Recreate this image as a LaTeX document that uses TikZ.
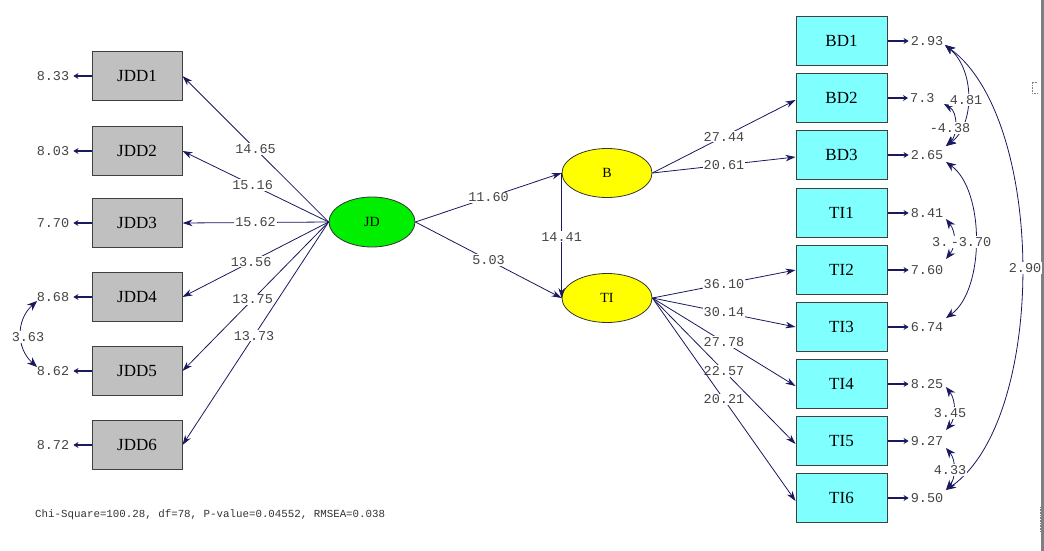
\documentclass[tikz,border=0pt]{standalone}
\usepackage{fontspec}
\setmainfont{Liberation Serif}
\newfontfamily\monof{Liberation Mono}
\usetikzlibrary{arrows.meta,shapes.geometric}
\definecolor{navy}{RGB}{25,25,95}
\definecolor{boxgray}{RGB}{192,192,192}
\definecolor{lcyan}{RGB}{128,255,255}
\definecolor{lgreen}{RGB}{0,238,0}
\definecolor{lyellow}{RGB}{255,255,0}
\definecolor{txtgray}{RGB}{70,70,70}
\begin{document}
\begin{tikzpicture}[x=1pt,y=-1pt,
  gbox/.style={draw=black!75, line width=1pt, fill=boxgray, minimum width=90pt, minimum height=49pt, inner sep=0pt, font=\fontsize{17}{17}\selectfont},
  cbox/.style={draw=black!75, line width=1pt, fill=lcyan, minimum width=91pt, minimum height=49pt, inner sep=0pt, font=\fontsize{17}{17}\selectfont},
  lat/.style={ellipse, draw=black!80, line width=0.8pt, minimum width=88pt, minimum height=50pt, inner sep=0pt, font=\fontsize{14}{14}\selectfont},
  num/.style={font=\monof\fontsize{13.5}{13.5}\selectfont, text=txtgray, inner sep=1pt},
  numw/.style={num, fill=white},
  load/.style={draw=navy, line width=0.8pt, -{Stealth[length=10pt,width=6.5pt]}},
  err/.style={draw=navy, line width=2.4pt, -{Stealth[length=5pt,width=6pt]}},
  cov/.style={draw=navy, line width=0.8pt, {Stealth[length=10pt,width=8pt]}-{Stealth[length=10pt,width=8pt]}},
]
\useasboundingbox (0,0) rectangle (1044,551);
\fill[white] (0,0) rectangle (1044,551);

% window edge
\draw[gray, line width=2.5pt] (1042.5,0) -- (1042.5,551);
\draw[gray, densely dotted, line width=0.6pt] (1037,82) -- (1032,82) -- (1032,93) -- (1037,93);
\draw[gray, densely dotted, line width=0.6pt] (1040,507) -- (1040,532);

% left boxes
\node[gbox] (JDD1) at (137,76) {JDD1};
\node[gbox] (JDD2) at (137,151) {JDD2};
\node[gbox] (JDD3) at (137,223) {JDD3};
\node[gbox] (JDD4) at (137,297) {JDD4};
\node[gbox] (JDD5) at (137,371) {JDD5};
\node[gbox] (JDD6) at (137,445) {JDD6};

% right boxes
\node[cbox] (BD1) at (841.5,41) {BD1};
\node[cbox] (BD2) at (841.5,98) {BD2};
\node[cbox] (BD3) at (841.5,155) {BD3};
\node[cbox] (TI1) at (841.5,213) {TI1};
\node[cbox] (TI2) at (841.5,270) {TI2};
\node[cbox] (TI3) at (841.5,327) {TI3};
\node[cbox] (TI4) at (841.5,384) {TI4};
\node[cbox] (TI5) at (841.5,441) {TI5};
\node[cbox] (TI6) at (841.5,498) {TI6};

% latent variables
\node[lat, fill=lgreen, minimum width=86pt] (JD) at (372,222) {JD};
\node[lat, fill=lyellow, minimum width=90pt, minimum height=49pt] (B) at (607,173) {B};
\node[lat, fill=lyellow, minimum width=90pt, minimum height=49pt] (TI) at (607,298) {TI};

% left loadings
\draw[load] (JD.west) -- (JDD1.east) node[numw, pos=0.5] {14.65};
\draw[load] (JD.west) -- (JDD2.east) node[numw, pos=0.52] {15.16};
\draw[load] (JD.west) -- (JDD3.east) node[numw, pos=0.5] {15.62};
\draw[load] (JD.west) -- (JDD4.east) node[numw, pos=0.53] {13.56};
\draw[load] (JD.west) -- (JDD5.east) node[numw, pos=0.52] {13.75};
\draw[load] (JD.west) -- (JDD6.east) node[numw, pos=0.51] {13.73};

% structural paths
\draw[load] (JD.east) -- (B.west) node[numw, pos=0.5] {11.60};
\draw[load] (JD.east) -- (TI.west) node[numw, pos=0.5] {5.03};
\draw[load] (B.west) -- (TI.west) node[numw, pos=0.51] {14.41};

% right loadings
\draw[load] (B.east) -- ([yshift=-2pt]BD2.west) node[numw, pos=0.5] {27.44};
\draw[load] (B.east) -- ([yshift=-2pt]BD3.west) node[numw, pos=0.5] {20.61};
\draw[load] (TI.east) -- (TI2.west) node[numw, pos=0.5] {36.10};
\draw[load] (TI.east) -- (TI3.west) node[numw, pos=0.5] {30.14};
\draw[load] (TI.east) -- ([yshift=-2pt]TI4.west) node[numw, pos=0.5] {27.78};
\draw[load] (TI.east) -- ([yshift=-3pt]TI5.west) node[numw, pos=0.5] {22.57};
\draw[load] (TI.east) -- ([yshift=-3pt]TI6.west) node[numw, pos=0.5] {20.21};

% left error terms
\node[num] (e1) at (53,76) {8.33};
\node[num] (e2) at (53,151) {8.03};
\node[num] (e3) at (53,223) {7.70};
\node[num] (e4) at (53,297) {8.68};
\node[num] (e5) at (53,371) {8.62};
\node[num] (e6) at (53,445) {8.72};
\foreach \b/\e in {JDD1/e1,JDD2/e2,JDD3/e3,JDD4/e4,JDD5/e5,JDD6/e6}
  \draw[err] (\b.west) -- ([xshift=3pt]\e.east);

% right error terms
\node[num] (r1) at (927,41) {2.93};
\node[num, anchor=west] (r2) at (909,98) {7.3};
\node[num] (r3) at (927,155) {2.65};
\node[num] (r4) at (927,213) {8.41};
\node[num] (r5) at (927,270) {7.60};
\node[num] (r6) at (927,327) {6.74};
\node[num] (r7) at (927,384) {8.25};
\node[num] (r8) at (927,441) {9.27};
\node[num] (r9) at (927,498) {9.50};
\draw[err] (BD1.east) -- ([xshift=-1pt]r1.west);
\draw[err] (BD2.east) -- ([xshift=-1pt]r2.west);
\draw[err] (BD3.east) -- ([xshift=-1pt]r3.west);
\draw[err] (TI1.east) -- ([xshift=-1pt]r4.west);
\draw[err] (TI2.east) -- ([xshift=-1pt]r5.west);
\draw[err] (TI3.east) -- ([xshift=-1pt]r6.west);
\draw[err] (TI4.east) -- ([xshift=-1pt]r7.west);
\draw[err] (TI5.east) -- ([xshift=-1pt]r8.west);
\draw[err] (TI6.east) -- ([xshift=-1pt]r9.west);

% covariance end points
\coordinate (cL4) at (37,301);
\coordinate (cL5) at (37,367);
\coordinate (cB1) at (945,45);
\coordinate (cB2) at (944,104);
\coordinate (cB3a) at (946,146);
\coordinate (cB3b) at (946,162);
\coordinate (cT1) at (946,219);
\coordinate (cT2) at (946,259);
\coordinate (cT3) at (946,318);
\coordinate (cT4) at (946,387);
\coordinate (cT5a) at (946,430);
\coordinate (cT5b) at (946,448);
\coordinate (cT6) at (946,490);

% covariances
\draw[cov] (cL4) .. controls (16,320) and (16,348) .. (cL5);
\draw[cov] (cB1) .. controls (975,70) and (975,125) .. (cB3a);
\draw[cov] (cB2) .. controls (958,112) and (958,135) .. (cB3a);
\draw[cov] (cB3b) .. controls (985,190) and (985,290) .. (cT3);
\draw[cov] (cT1) .. controls (956,232) and (956,246) .. (cT2);
\draw[cov] (cT4) .. controls (956,400) and (956,418) .. (cT5a);
\draw[cov] (cT5b) .. controls (956,460) and (956,478) .. (cT6);
\draw[cov] (cB1) .. controls (1047,120) and (1047,420) .. (cT6);

\node[numw] (k1) at (28,337) {3.63};
\node[numw] (k2) at (966,100) {4.81};
\node[numw] (k3) at (950,128) {-4.38};
\node[numw, anchor=west] (k4) at (931,242) {3.};
\node[numw] (k5) at (971,242) {-3.70};
\node[numw] (k6) at (950,413) {3.45};
\node[numw] (k7) at (950,470) {4.33};
\node[numw] (k8) at (1025,268) {2.90};

% fit statistics
\node[anchor=west, font=\monof\fontsize{10.8}{10.8}\selectfont, text=black!80, inner sep=0pt] (fit) at (35,515) {Chi-Square=100.28, df=78, P-value=0.04552, RMSEA=0.038};
\end{tikzpicture}
\end{document}
